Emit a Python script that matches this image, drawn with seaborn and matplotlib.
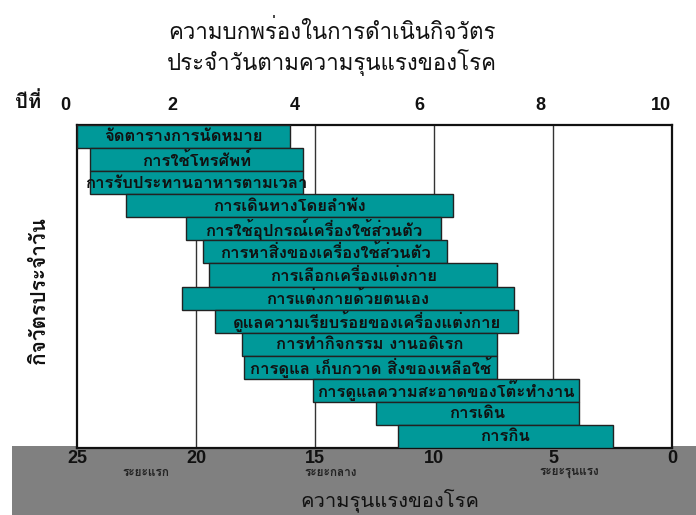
import matplotlib
matplotlib.use("Agg")
import matplotlib.pyplot as plt
import matplotlib.transforms as mtransforms
from matplotlib.patches import Rectangle
import seaborn as sns
import pandas as pd

# ---------------- data ----------------
activities = [
    "จัดตารางการนัดหมาย",
    "การใช้โทรศัพท์",
    "การรับประทานอาหารตามเวลา",
    "การเดินทางโดยลำพัง",
    "การใช้อุปกรณ์เครื่องใช้ส่วนตัว",
    "การหาสิ่งของเครื่องใช้ส่วนตัว",
    "การเลือกเครื่องแต่งกาย",
    "การแต่งกายด้วยตนเอง",
    "ดูแลความเรียบร้อยของเครื่องแต่งกาย",
    "การทำกิจกรรม งานอดิเรก",
    "การดูแล เก็บกวาด สิ่งของเหลือใช้",
    "การดูแลความสะอาดของโต๊ะทำงาน",
    "การเดิน",
    "การกิน",
]
# severity score where the impairment begins (left end) and ends (right end)
sev_start = [25.0, 24.45, 24.45, 22.95, 20.4, 19.7, 19.45, 20.6, 19.2, 18.05, 18.0, 15.1, 12.45, 11.5]
sev_end = [16.05, 15.5, 15.5, 9.2, 9.7, 9.45, 7.35, 6.65, 6.45, 7.35, 7.35, 3.9, 3.9, 2.5]

severity_ticks = [25, 20, 15, 10, 5, 0]
year_labels = ["0", "2", "4", "6", "8", "10"]
year_pos = [25.5, 21.0, 15.85, 10.6, 5.55, 0.45]     # where the year labels sit on the severity scale
stage_labels = ["ระยะแรก", "ระยะกลาง", "ระยะรุนแรง"]
stage_pos = [22.1, 14.35, 4.3]

title = "ความบกพร่องในการดำเนินกิจวัตร\nประจำวันตามความรุนแรงของโรค"
xlabel = "ความรุนแรงของโรค"
ylabel = "กิจวัตรประจำวัน"
year_word = "ปีที่"

TEAL = "#009999"
THAI = ["Loma", "DejaVu Sans"]
DIGIT = ["Liberation Sans Narrow", "Liberation Sans", "DejaVu Sans"]

df = pd.DataFrame({
    "activity": activities,
    "start": sev_start,
    "end": sev_end,
})
df["span"] = df["start"] - df["end"]

sns.set_theme(style="white")
plt.rcParams["font.family"] = THAI

fig = plt.figure(figsize=(6.96, 5.15), dpi=100)
W, H = 696, 515

# grey band at the bottom
fig.patches.append(Rectangle((12 / W, 0), 1 - 12 / W, (515 - 446) / H,
                             transform=fig.transFigure, facecolor="#808080",
                             edgecolor="none", zorder=0))

ax = fig.add_axes([77 / W, 1 - 448 / H, (672 - 77) / W, (448 - 125) / H])
ax.set_zorder(2)

sns.barplot(data=df, x="span", y="activity", orient="h", color=TEAL,
            width=1.0, edgecolor="#222222", linewidth=1.0, saturation=1,
            ax=ax, zorder=3)
# shift each bar so it starts at its severity end value
for patch, e in zip(ax.patches, df["end"]):
    patch.set_x(e)

ax.set_xticks(severity_ticks)
ax.set_xticklabels([str(t) for t in severity_ticks], fontsize=13,
                   fontweight="bold", family=DIGIT, color="#111111")
ax.tick_params(axis="x", length=0, pad=1.5)
ax.set_xlim(25, 0)
ax.set_ylim(len(activities) - 0.5, -0.5)

for v in [20, 15, 10, 5]:
    ax.axvline(v, color="#333333", lw=1.0, zorder=1)

for i, row in df.iterrows():
    ax.text((row["start"] + row["end"]) / 2, i + 0.02, row["activity"],
            ha="center", va="center", fontsize=12, fontweight="bold",
            color="#111111", family=THAI, zorder=5)

ax.set_yticks([])
ax.set_ylabel("")
ax.set_xlabel("")
for s in ax.spines.values():
    s.set_visible(True)
    s.set_color("#111111")
    s.set_linewidth(1.6)

trans = mtransforms.blended_transform_factory(ax.transData, ax.transAxes)
# year scale along the top
for lab, p in zip(year_labels, year_pos):
    ax.text(p, 1.06, lab, transform=trans, ha="center", va="center",
            fontsize=13, fontweight="bold", family=DIGIT, color="#111111",
            clip_on=False)
# disease stages under the severity scale
for lab, p in zip(stage_labels, stage_pos):
    ax.text(p, -0.078, lab, transform=trans, ha="center", va="center",
            fontsize=8.5, fontweight="bold", color="#222222", family=THAI,
            clip_on=False)

fig.text(28 / W, 1 - 102 / H, year_word, ha="center", va="center",
         fontsize=14.5, fontweight="bold", family=THAI, color="#111111")
fig.text(332 / W, 1 - 48 / H, title, ha="center", va="center",
         fontsize=16, family=THAI, color="#111111", linespacing=1.2)
fig.text(390 / W, 1 - 500 / H, xlabel, ha="center", va="center",
         fontsize=14.5, family=THAI, color="#111111")
fig.text(40 / W, 1 - 290 / H, ylabel, ha="center", va="center", rotation=90,
         fontsize=15, fontweight="bold", family=THAI, color="#111111")

fig.savefig("out.png", dpi=100)
